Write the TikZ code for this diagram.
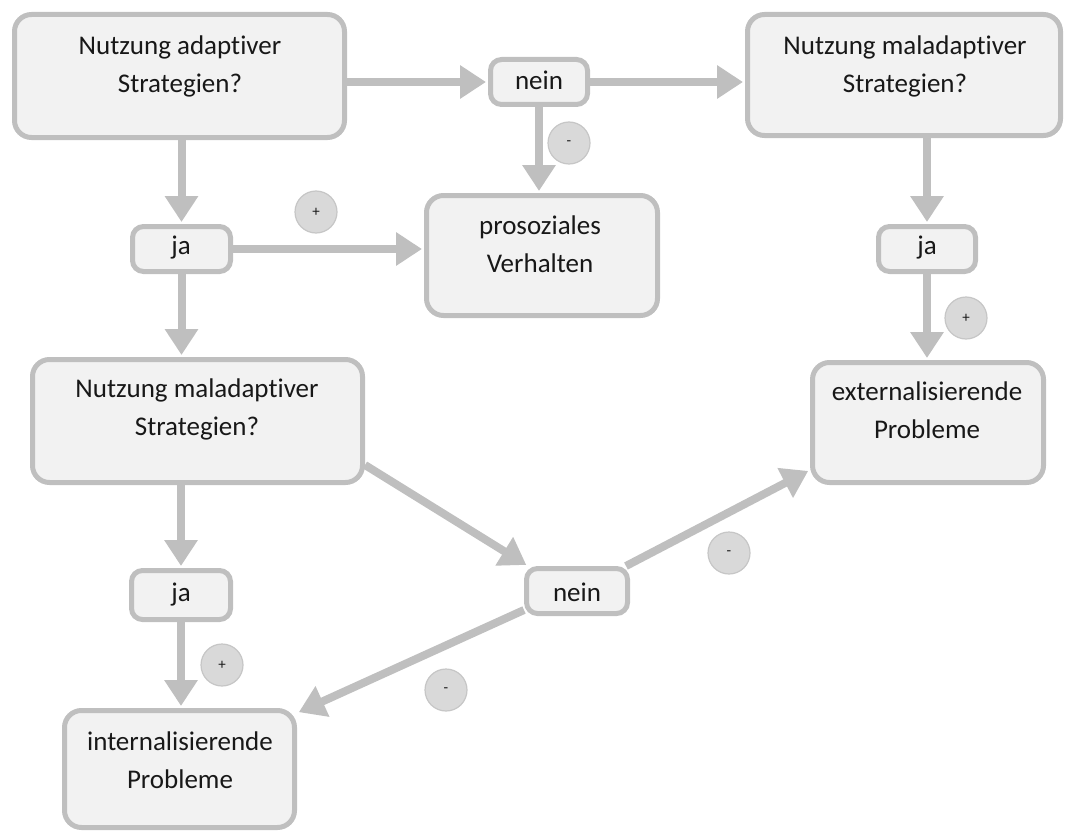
\documentclass[tikz,border=0pt]{standalone}
\usepackage{fontspec}
\setmainfont{Carlito}[Ligatures={NoCommon,NoContextual}]
\usetikzlibrary{arrows.meta}
% keeps "t" and "i" as separate glyphs
\newcommand\splitti{t\kern0pt i}
\definecolor{edge}{HTML}{BFBFBF}
\definecolor{boxfill}{HTML}{F2F2F2}
\definecolor{signfill}{HTML}{D9D9D9}
\definecolor{signline}{HTML}{C6C6C6}
\definecolor{ink}{HTML}{181818}
\tikzset{
  box/.style={draw=edge, line width=5pt, fill=boxfill, rounded corners=17pt, inner sep=0pt},
  tag/.style={box, rounded corners=11pt},
  lbl/.style={text=ink, font=\fontsize{27}{38}\selectfont, align=center, inner sep=0pt},
  sign/.style={circle, draw=signline, line width=1.2pt, fill=signfill, minimum size=42pt,
               inner sep=0pt, text=ink, font=\fontsize{15}{15}\selectfont},
  flow/.style={draw=edge, line width=8pt, -{Triangle[length=26pt,width=32pt]}, shorten >=2pt},
}
\begin{document}
\begin{tikzpicture}[x=1pt, y=-1pt]
  \useasboundingbox (0,0) rectangle (1075,832);

  % boxes
  \node[box, minimum width=330pt, minimum height=123pt] (A)     at (179.5,76)  {};
  \node[tag, minimum width=97pt,  minimum height=45pt]  (nein1) at (539,82)    {};
  \node[box, minimum width=313pt, minimum height=121pt] (B)     at (904,75)    {};
  \node[tag, minimum width=98pt,  minimum height=45pt]  (ja1)   at (181.5,249) {};
  \node[box, minimum width=231pt, minimum height=120pt] (P)     at (542,255.5) {};
  \node[tag, minimum width=97pt,  minimum height=45pt]  (ja2)   at (927,249)   {};
  \node[box, minimum width=330pt, minimum height=123pt] (C)     at (197.5,421) {};
  \node[box, minimum width=231pt, minimum height=120pt] (E)     at (928,422.5) {};
  \node[tag, minimum width=99pt,  minimum height=49pt]  (ja3)   at (181,595)   {};
  \node[tag, minimum width=101pt, minimum height=45pt]  (nein2) at (577,591)   {};
  \node[box, minimum width=230pt, minimum height=117pt] (I)     at (179.5,769) {};

  % texts
  \node[lbl] (tA)  at (180,66)  {Nutzung adap\splitti ver\\Strategien?};
  \node[lbl] (tn1) at (539,80)  {nein};
  \node[lbl] (tB)  at (905,66)  {Nutzung maladap\splitti ver\\Strategien?};
  \node[lbl] (tj1) at (181,248) {ja};
  \node[lbl] (tP)  at (540,244) {prosoziales\\Verhalten};
  \node[lbl] (tj2) at (927,248) {ja};
  \node[lbl] (tC)  at (197,409) {Nutzung maladap\splitti ver\\Strategien?};
  \node[lbl] (tE)  at (927,410) {externalisierende\\Probleme};
  \node[lbl] (tj3) at (181,595) {ja};
  \node[lbl] (tn2) at (577,592) {nein};
  \node[lbl] (tI)  at (180,760) {internalisierende\\Probleme};

  % connectors
  \draw[flow] (A.east |- nein1) -- (nein1.west);
  \draw[flow] (nein1.east) -- (nein1.east -| B.west);
  \draw[flow] (nein1.south) -- (nein1.south |- P.north);
  \draw[flow] (A.south -| ja1) -- (ja1.north);
  \draw[flow] (ja1.east) -- (ja1.east -| P.west);
  \draw[flow] (ja1.south) -- (ja1.south |- C.north);
  \draw[flow] (B.south -| ja2) -- (ja2.north);
  \draw[flow] (ja2.south) -- (ja2.south |- E.north);
  \draw[flow] (C.south -| ja3) -- (ja3.north);
  \draw[flow] (ja3.south) -- (ja3.south |- I.north);
  \draw[flow] ([yshift=20pt]C.south east) -- ([xshift=4pt]nein2.north west);
  \draw[flow] ([xshift=-4pt]nein2.north east) -- ([yshift=15pt]E.south west);
  \draw[flow] ([yshift=6pt]nein2.south west) -- ([yshift=-5pt]I.north east);

  % signs
  \node[sign] (s1) at (569,143) {-};
  \node[sign] (s2) at (316,212) {+};
  \node[sign] (s3) at (966,318) {+};
  \node[sign] (s4) at (729,553) {-};
  \node[sign] (s5) at (222,665) {+};
  \node[sign] (s6) at (446,690) {-};
\end{tikzpicture}
\end{document}
